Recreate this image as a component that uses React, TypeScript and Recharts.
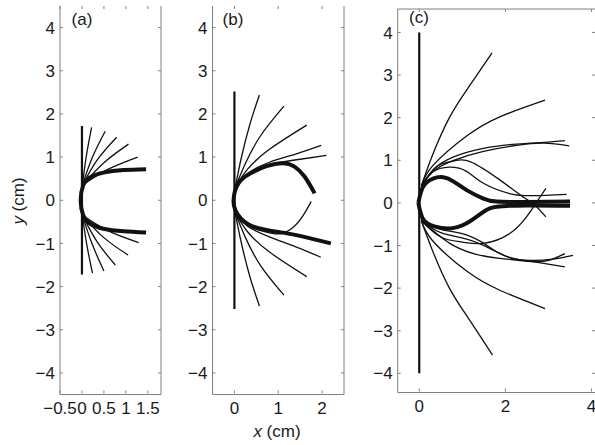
import React from 'react';
import { LineChart, Line, XAxis, YAxis } from 'recharts';

type Pt = [number, number];

const FONT = '"Liberation Sans", Arial, Helvetica, sans-serif';
const INK = '#111';
const AXIS = '#808080';
const TXT = '#1a1a1a';
const FS = 17;

const Y_TICKS = [-4, -3, -2, -1, 0, 1, 2, 3, 4];
const A_X_TICKS = [-0.5, 0, 0.5, 1, 1.5];
const B_X_TICKS = [0, 1, 2];
const C_X_TICKS = [0, 2, 4];

// panel (a)
const A_STEM: Pt[] = [[0, 1.72], [0, -1.72]];
const A_UP: Pt[][] = [
  [[0.01, 0.35], [0.1, 1.03], [0.22, 1.69]],
  [[0.01, 0.35], [0.24, 1.0], [0.53, 1.6]],
  [[0.01, 0.35], [0.36, 0.95], [0.79, 1.46]],
  [[0.01, 0.35], [0.5, 0.87], [1.06, 1.3]],
  [[0.01, 0.35], [0.6, 0.72], [1.27, 1.0]],
];
const A_DOWN: Pt[][] = [
  [[0.01, -0.35], [0.11, -1.03], [0.24, -1.69]],
  [[0.01, -0.35], [0.23, -1.01], [0.5, -1.64]],
  [[0.01, -0.35], [0.35, -0.97], [0.76, -1.5]],
  [[0.01, -0.35], [0.49, -0.86], [1.05, -1.27]],
  [[0.01, -0.35], [0.6, -0.71], [1.29, -0.98]],
];
const A_BOW: Pt[] = [
  [1.46, 0.72], [0.95, 0.7], [0.49, 0.64], [0.18, 0.53], [0.03, 0.35], [-0.03, 0],
  [0.03, -0.35], [0.18, -0.54], [0.49, -0.66], [0.95, -0.72], [1.46, -0.75],
];

// panel (b)
const B_STEM: Pt[] = [[0, 2.52], [0, -2.52]];
const B_UP: Pt[][] = [
  [[0.02, 0.3], [0.15, 0.95], [0.35, 1.75], [0.57, 2.44]],
  [[0.02, 0.3], [0.25, 0.85], [0.6, 1.5], [1.13, 2.18]],
  [[0.02, 0.3], [0.3, 0.72], [0.8, 1.18], [1.65, 1.74]],
  [[0.02, 0.3], [0.3, 0.62], [0.8, 0.88], [1.4, 1.07], [1.98, 1.27]],
  [[0.02, 0.3], [0.2, 0.53], [0.6, 0.76], [1.0, 0.87], [1.5, 0.95], [2.1, 1.04]],
];
const B_DOWN: Pt[][] = [
  [[0.02, -0.3], [0.15, -0.95], [0.35, -1.76], [0.57, -2.45]],
  [[0.02, -0.3], [0.25, -0.86], [0.6, -1.52], [1.13, -2.2]],
  [[0.02, -0.3], [0.3, -0.73], [0.8, -1.2], [1.65, -1.77]],
  [[0.02, -0.3], [0.3, -0.6], [0.8, -0.85], [1.4, -1.08], [1.97, -1.32]],
];
const B_LOOP: Pt[] = [
  [0.02, -0.3], [0.3, -0.58], [0.7, -0.73], [1.0, -0.78], [1.3, -0.66], [1.55, -0.38], [1.75, -0.03],
];
const B_BOW: Pt[] = [
  [1.83, 0.16], [1.6, 0.55], [1.37, 0.78], [1.11, 0.86], [0.73, 0.79], [0.36, 0.62], [0.09, 0.39],
  [-0.02, 0], [0.07, -0.32], [0.43, -0.61], [1.11, -0.75], [1.64, -0.86], [2.2, -1.0],
];

// panel (c)
const C_STEM: Pt[] = [[0, 4], [0, -4]];
const C_UP: Pt[][] = [
  [[0.05, 0.4], [0.3, 1.1], [0.7, 2.0], [1.15, 2.72], [1.69, 3.52]],
  [[0.05, 0.4], [0.32, 0.88], [1.1, 1.57], [1.87, 2.02], [2.92, 2.41]],
  [[0.05, 0.4], [0.35, 0.8], [0.8, 1.08], [1.49, 1.28], [2.26, 1.38], [2.9, 1.42], [3.38, 1.46]],
  [[0.05, 0.4], [0.35, 0.76], [0.8, 1.0], [1.49, 1.21], [2.26, 1.35], [2.9, 1.4], [3.48, 1.34]],
  [[0.05, 0.4], [0.4, 0.85], [0.79, 0.98], [1.18, 0.97], [1.87, 0.54], [2.41, 0.14], [2.68, -0.05], [2.94, -0.33]],
  [[0.05, 0.4], [0.3, 0.72], [0.7, 0.84], [1.1, 0.74], [1.49, 0.46], [2.1, 0.22], [2.64, 0.17], [3.42, 0.2]],
];
const C_DOWN: Pt[][] = [
  [[0.05, -0.42], [0.3, -1.1], [0.7, -2.0], [1.15, -2.72], [1.7, -3.57]],
  [[0.05, -0.42], [0.32, -0.9], [1.1, -1.6], [1.87, -2.05], [2.92, -2.48]],
  [[0.05, -0.42], [0.5, -0.8], [1.0, -0.92], [1.49, -0.95], [2.1, -0.72], [2.49, -0.33], [2.68, -0.05], [2.94, 0.34]],
  [[0.05, -0.42], [0.71, -0.95], [1.3, -1.2], [1.87, -1.3], [2.6, -1.38], [3.38, -1.5]],
  [[0.05, -0.42], [0.5, -0.7], [1.1, -0.85], [1.6, -1.05], [2.1, -1.28], [2.6, -1.35], [3.1, -1.32], [3.57, -1.23]],
  [[0.05, -0.42], [0.5, -0.62], [1.0, -0.72], [1.5, -0.95], [2.0, -1.25], [2.6, -1.37], [3.0, -1.35], [3.38, -1.19]],
];
const C_BOW_UP: Pt[] = [
  [-0.02, 0], [0.09, 0.38], [0.32, 0.57], [0.56, 0.6], [0.8, 0.5], [1.1, 0.3], [1.49, 0.1], [1.8, 0.03], [2.5, 0.02], [3.5, 0.03],
];
const C_BOW_DOWN: Pt[] = [
  [-0.02, 0], [0.09, -0.38], [0.35, -0.55], [0.71, -0.6], [1.1, -0.48], [1.49, -0.21], [1.8, -0.09], [2.5, -0.06], [3.5, -0.07],
];

type Curve = { pts: Pt[]; w: number; straight?: boolean };

const thin = (list: Pt[][]): Curve[] => list.map((pts) => ({ pts, w: 1.3 }));

const fmt = (v: number) => (v < 0 ? '\u2212' + String(-v) : String(v));

interface PanelProps {
  box: [number, number, number, number]; // left, top, right, bottom of plot area
  xDomain: [number, number];
  yDomain: [number, number];
  xTicks: number[];
  curves: Curve[];
  topLine: boolean;
  rightLine: boolean;
}

const M = 5; // gap between axis and tick labels

function LeftTick({ x, y, payload }: any) {
  return (
    <g>
      <line x1={x + M} x2={x + M + 3} y1={y} y2={y} stroke={AXIS} />
      <text x={x} y={y} dy="0.36em" textAnchor="end" fontSize={FS} fill={TXT} fontFamily={FONT}>
        {fmt(payload.value)}
      </text>
    </g>
  );
}

function BottomTick({ x, y, payload }: any) {
  return (
    <g>
      <line x1={x} x2={x} y1={y - M - 1} y2={y - M - 4} stroke={AXIS} />
      <text x={x} y={y + 2} dy="0.72em" textAnchor="middle" fontSize={FS} fill={TXT} fontFamily={FONT}>
        {fmt(payload.value)}
      </text>
    </g>
  );
}

function RightTick({ x, y }: any) {
  return <line x1={x} x2={x - 3} y1={y} y2={y} stroke={AXIS} />;
}

function TopTick({ x, y }: any) {
  return <line x1={x} x2={x} y1={y} y2={y + 3} stroke={AXIS} />;
}

function Panel({ box, xDomain, yDomain, xTicks, curves, topLine, rightLine }: PanelProps) {
  const [l, t, r, b] = box;
  // axes take 1px each, so the margins are pulled in by one
  return (
    <div style={{ position: 'absolute', left: 0, top: 0 }}>
      <LineChart width={595} height={445} margin={{ left: l - 1, top: t - 1, right: 595 - r - 1, bottom: 445 - b - 1 }}>
        <XAxis
          xAxisId="b"
          type="number"
          dataKey="x"
          domain={xDomain}
          ticks={xTicks}
          interval={0}
          allowDataOverflow
          height={1}
          tickSize={0}
          tickMargin={M}
          tickLine={false}
          axisLine={{ stroke: AXIS }}
          tick={<BottomTick />}
        />
        <XAxis
          xAxisId="t"
          orientation="top"
          type="number"
          dataKey="x"
          domain={xDomain}
          ticks={xTicks}
          interval={0}
          allowDataOverflow
          height={1}
          tickSize={0}
          tickMargin={0}
          tickLine={false}
          axisLine={topLine ? { stroke: AXIS } : false}
          tick={<TopTick />}
        />
        <YAxis
          yAxisId="l"
          type="number"
          dataKey="y"
          domain={yDomain}
          ticks={Y_TICKS}
          interval={0}
          allowDataOverflow
          width={1}
          tickSize={0}
          tickMargin={M}
          tickLine={false}
          axisLine={{ stroke: AXIS }}
          tick={<LeftTick />}
        />
        <YAxis
          yAxisId="r"
          orientation="right"
          type="number"
          dataKey="y"
          domain={yDomain}
          ticks={Y_TICKS}
          interval={0}
          allowDataOverflow
          width={1}
          tickSize={0}
          tickMargin={0}
          tickLine={false}
          axisLine={rightLine ? { stroke: AXIS } : false}
          tick={<RightTick />}
        />
        {curves.map((c, i) => (
          <Line
            key={i}
            xAxisId="b"
            yAxisId="l"
            data={c.pts.map(([x, y]) => ({ x, y }))}
            dataKey="y"
            type={c.straight ? 'linear' : 'natural'}
            stroke={INK}
            strokeWidth={c.w}
            strokeLinecap="butt"
            dot={false}
            activeDot={false}
            isAnimationActive={false}
          />
        ))}
      </LineChart>
    </div>
  );
}

const A_CURVES: Curve[] = [
  { pts: A_STEM, w: 2.2, straight: true },
  ...thin(A_UP),
  ...thin(A_DOWN),
  { pts: A_BOW, w: 4 },
];

const B_CURVES: Curve[] = [
  { pts: B_STEM, w: 2.2, straight: true },
  ...thin(B_UP),
  ...thin(B_DOWN),
  { pts: B_LOOP, w: 1.3 },
  { pts: B_BOW, w: 4 },
];

const C_CURVES: Curve[] = [
  { pts: C_STEM, w: 2.2, straight: true },
  ...thin(C_UP),
  ...thin(C_DOWN),
  { pts: C_BOW_UP, w: 4 },
  { pts: C_BOW_DOWN, w: 4 },
];

export default function App() {
  return (
    <div style={{ position: 'absolute', left: 0, top: 0, width: 595, height: 445, background: '#fff', overflow: 'hidden' }}>
      <Panel box={[60, 6, 161, 394.5]} xDomain={[-0.5, 1.8]} yDomain={[-4.5, 4.5]} xTicks={A_X_TICKS} curves={A_CURVES} topLine={false} rightLine />
      <Panel box={[212.5, 6, 344, 394.5]} xDomain={[-0.5, 2.5]} yDomain={[-4.5, 4.5]} xTicks={B_X_TICKS} curves={B_CURVES} topLine={false} rightLine />
      <Panel box={[397.7, 9, 595, 392.5]} xDomain={[-0.5, 4.08]} yDomain={[-4.45, 4.55]} xTicks={C_X_TICKS} curves={C_CURVES} topLine rightLine={false} />
      <svg width={595} height={445} style={{ position: 'absolute', left: 0, top: 0, pointerEvents: 'none' }}>
        <g fontFamily={FONT} fontSize={FS} fill={TXT}>
          <text x={82} y={19} dy="0.36em" textAnchor="middle">(a)</text>
          <text x={233} y={19} dy="0.36em" textAnchor="middle">(b)</text>
          <text x={419} y={17} dy="0.36em" textAnchor="middle">(c)</text>
          <text x={277} y={431} dy="0.36em" textAnchor="middle">
            <tspan fontStyle="italic">x</tspan> (cm)
          </text>
          <text x={18} y={201} dy="0.36em" textAnchor="middle" transform="rotate(-90 18 201)">
            <tspan fontStyle="italic">y</tspan> (cm)
          </text>
        </g>
      </svg>
    </div>
  );
}
